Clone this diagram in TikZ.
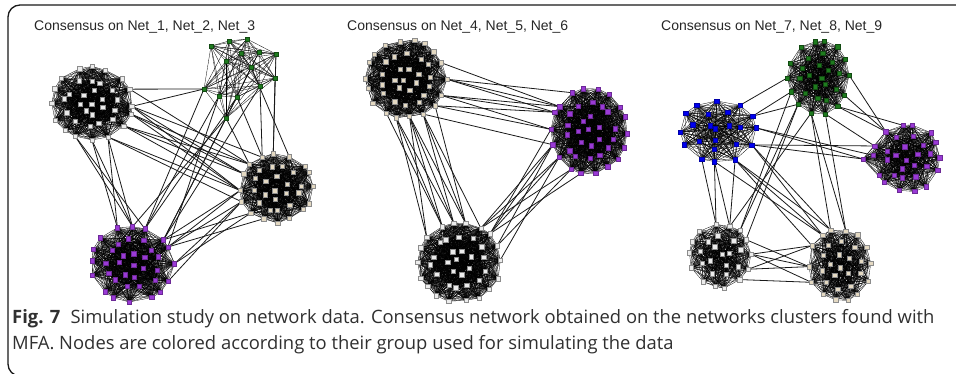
\documentclass[tikz,border=0pt]{standalone}
\usepackage{fontspec}
\newfontfamily\titlefont{Liberation Sans}
\newfontfamily\capfont{Open Sans}
\definecolor{vwhite}{HTML}{ECECEC}
\definecolor{vbeige}{HTML}{E4D9C2}
\definecolor{vgreen}{HTML}{1E7B1E}
\definecolor{vpurple}{HTML}{9A3AD6}
\definecolor{vblue}{HTML}{0000F0}
\definecolor{capgray}{HTML}{303030}
\tikzset{
    edge/.style={line width=0.3pt, black},
    link/.style={line width=0.8pt, black!90},
    vtx/.style={rectangle, minimum size=4.3pt, inner sep=0pt, line width=0.4pt, draw=black!45},
    whitev/.style={vtx, fill=vwhite},
    beigev/.style={vtx, fill=vbeige},
    greenv/.style={vtx, fill=vgreen, draw=vgreen!60!black},
    purplev/.style={vtx, fill=vpurple, draw=vpurple!70!black},
    bluev/.style={vtx, fill=vblue, draw=vblue!70!black},
    title/.style={font=\titlefont\fontsize{14}{16}\selectfont, text=black!85, inner sep=0pt},
    caption/.style={font=\capfont\fontsize{18.4}{22}\selectfont, text=capgray, inner sep=0pt}
}
\newcommand{\netcluster}[8]{%
    \foreach \k in {1,...,#6}{
        \pgfmathsetmacro{\cang}{(\k-1)*360/#6+6*rand}
        \pgfmathsetmacro{\crad}{0.93+0.07*rnd}
        \coordinate (#1-\k) at ({#2+#4*\crad*cos(\cang)},{#3+#5*\crad*sin(\cang)});
    }
    \pgfmathtruncatemacro{\ca}{#6+1}
    \pgfmathtruncatemacro{\cb}{#6+#7}
    \foreach \k in {\ca,...,\cb}{
        \pgfmathsetmacro{\cang}{(\k-\ca)*360/#7+10+8*rand}
        \pgfmathsetmacro{\crad}{0.62+0.06*rand}
        \coordinate (#1-\k) at ({#2+#4*\crad*cos(\cang)},{#3+#5*\crad*sin(\cang)});
    }
    \pgfmathtruncatemacro{\cc}{\cb+1}
    \pgfmathtruncatemacro{\cd}{\cb+#8}
    \foreach \k in {\cc,...,\cd}{
        \pgfmathsetmacro{\cang}{(\k-\cc)*360/#8+25+10*rand}
        \pgfmathsetmacro{\crad}{0.3+0.05*rand}
        \coordinate (#1-\k) at ({#2+#4*\crad*cos(\cang)},{#3+#5*\crad*sin(\cang)});
    }
    \pgfmathtruncatemacro{\ce}{\cd+1}
    \coordinate (#1-\ce) at ({#2+3*rand},{#3+3*rand});
}
\newcommand{\netedges}[2]{%
    \foreach \k in {2,...,#2}{
        \pgfmathtruncatemacro{\cprev}{\k-1}
        \foreach \l in {1,...,\cprev} \draw[edge] (#1-\k) -- (#1-\l);
    }
}
\newcommand{\netnodes}[3]{%
    \foreach \k in {1,...,#2} \node[#3] (#1s\k) at (#1-\k) {};
}
\begin{document}
\begin{tikzpicture}[x=1pt, y=1pt]
    \clip (0,0) rectangle (956,373);
    \pgfmathsetseed{3}
    \draw[line width=1.3pt, rounded corners=12pt, color=black!90] (990,368) -- (8,368) -- (8,-3) -- (40,-3);

    \node[title, anchor=base west] (t1) at (34,342) {Consensus on Net\_1, Net\_2, Net\_3};
    \node[title, anchor=base west] (t2) at (347,342) {Consensus on Net\_4, Net\_5, Net\_6};
    \node[title, anchor=base west] (t3) at (661,342) {Consensus on Net\_7, Net\_8, Net\_9};

    \netcluster{A}{92}{270}{42}{37}{16}{13}{7}
    \netcluster{C}{276}{185}{38}{35}{16}{12}{6}
    \netcluster{D}{132}{109}{43}{39}{16}{13}{7}
    \foreach \k/\x/\y in {1/211/327, 2/229/332, 3/247/334, 4/241/320, 5/259/321, 6/276/319, 7/226/312,
        8/251/306, 9/275/295, 10/260/287, 11/204/284, 12/219/277, 13/237/276, 14/226/255}
        \coordinate (B-\k) at (\x,\y);
    \netcluster{E}{406}{294}{42}{40}{18}{14}{7}
    \netcluster{F}{589}{242}{39}{44}{18}{14}{7}
    \netcluster{G}{459}{111}{43}{41}{18}{14}{7}
    \netcluster{H}{819}{296}{32}{38}{14}{10}{5}
    \netcluster{I}{718}{242}{40}{32}{12}{7}{3}
    \netcluster{J}{907}{215}{35}{35}{14}{10}{5}
    \coordinate (Jx) at (863,214);
    \netcluster{K}{720}{117}{32}{33}{14}{9}{4}
    \netcluster{L}{840}{108}{33}{37}{14}{10}{5}

    \netedges{A}{37}
    \netedges{B}{14}
    \netedges{C}{35}
    \netedges{D}{37}
    \netedges{E}{40}
    \netedges{F}{40}
    \netedges{G}{40}
    \netedges{H}{30}
    \netedges{I}{23}
    \netedges{J}{30}
    \netedges{K}{28}
    \netedges{L}{30}
    \foreach \k in {1,...,30} \draw[edge] (Jx) -- (J-\k);

    \foreach \a/\b in {15/8, 16/7, 1/9, 16/9, 15/7, 1/8, 14/10, 16/8, 1/6, 15/9, 2/7, 14/9} \draw[link] (A-\a) -- (C-\b);
    \foreach \a/\b in {13/5, 14/6, 12/5, 13/6, 14/5, 12/4} \draw[link] (A-\a) -- (D-\b);
    \foreach \a/\b in {14/3, 12/4, 13/3, 11/4, 14/5, 12/2, 10/3, 13/4} \draw[link] (B-\a) -- (D-\b);
    \foreach \a/\b in {9/5, 10/6, 8/4, 6/5, 13/6, 14/7} \draw[link] (B-\a) -- (C-\b);
    \foreach \a/\b in {10/2, 9/3, 11/1, 10/1, 9/2, 11/3, 12/2, 10/16} \draw[link] (C-\a) -- (D-\b);
    \foreach \a/\b in {1/11, 2/11} \draw[link] (A-\a) -- (B-\b);

    \foreach \a/\b in {18/9, 1/8, 17/10, 18/10, 1/9, 2/8, 17/9, 18/8, 1/7, 16/11} \draw[link] (E-\a) -- (F-\b);
    \foreach \a/\b in {15/6, 16/5, 14/7, 15/5, 16/6, 14/6, 13/7, 15/8, 16/4, 17/5, 14/8, 15/7} \draw[link] (E-\a) -- (G-\b);
    \foreach \a/\b in {12/3, 11/2, 13/4, 12/4, 11/3, 13/2, 14/3, 12/1, 10/3, 11/4} \draw[link] (F-\a) -- (G-\b);

    \foreach \a/\b in {9/2, 8/3, 10/2} \draw[link] (H-\a) -- (I-\b);
    \foreach \a/\b in {13/6, 12/7, 14/6, 13/5, 1/6} \draw[link] (H-\a) -- (J-\b);
    \foreach \a/\b in {10/3, 11/4, 10/2, 9/3} \draw[link] (H-\a) -- (K-\b);
    \foreach \a/\b in {11/5, 12/4, 11/4} \draw[link] (H-\a) -- (L-\b);
    \foreach \a in {1, 12} \draw[link] (I-\a) -- (Jx);
    \foreach \a/\b in {12/7, 1/8} \draw[link] (I-\a) -- (J-\b);
    \foreach \a/\b in {10/4, 9/5, 11/4, 10/5} \draw[link] (I-\a) -- (K-\b);
    \foreach \a/\b in {11/6, 12/5, 11/7, 10/6, 12/6, 11/5} \draw[link] (I-\a) -- (L-\b);
    \foreach \a/\b in {1/8, 14/7, 2/8, 13/9, 1/7, 14/8, 1/9} \draw[link] (K-\a) -- (L-\b);

    \netnodes{A}{37}{whitev}
    \netnodes{B}{14}{greenv}
    \netnodes{C}{35}{beigev}
    \netnodes{D}{37}{purplev}
    \netnodes{E}{40}{beigev}
    \netnodes{F}{40}{purplev}
    \netnodes{G}{40}{whitev}
    \netnodes{H}{30}{greenv}
    \netnodes{I}{23}{bluev}
    \netnodes{J}{30}{purplev}
    \node[purplev] (Jxs) at (Jx) {};
    \netnodes{K}{28}{whitev}
    \netnodes{L}{30}{beigev}

    \node[caption, anchor=base west] (cap1) at (12,50) {\textbf{Fig. 7}\hspace{0.55em}Simulation study on network data. Consensus network obtained on the networks clusters found with};
    \node[caption, anchor=base west] (cap2) at (12,24) {MFA. Nodes are colored according to their group used for simulating the data};
\end{tikzpicture}
\end{document}
